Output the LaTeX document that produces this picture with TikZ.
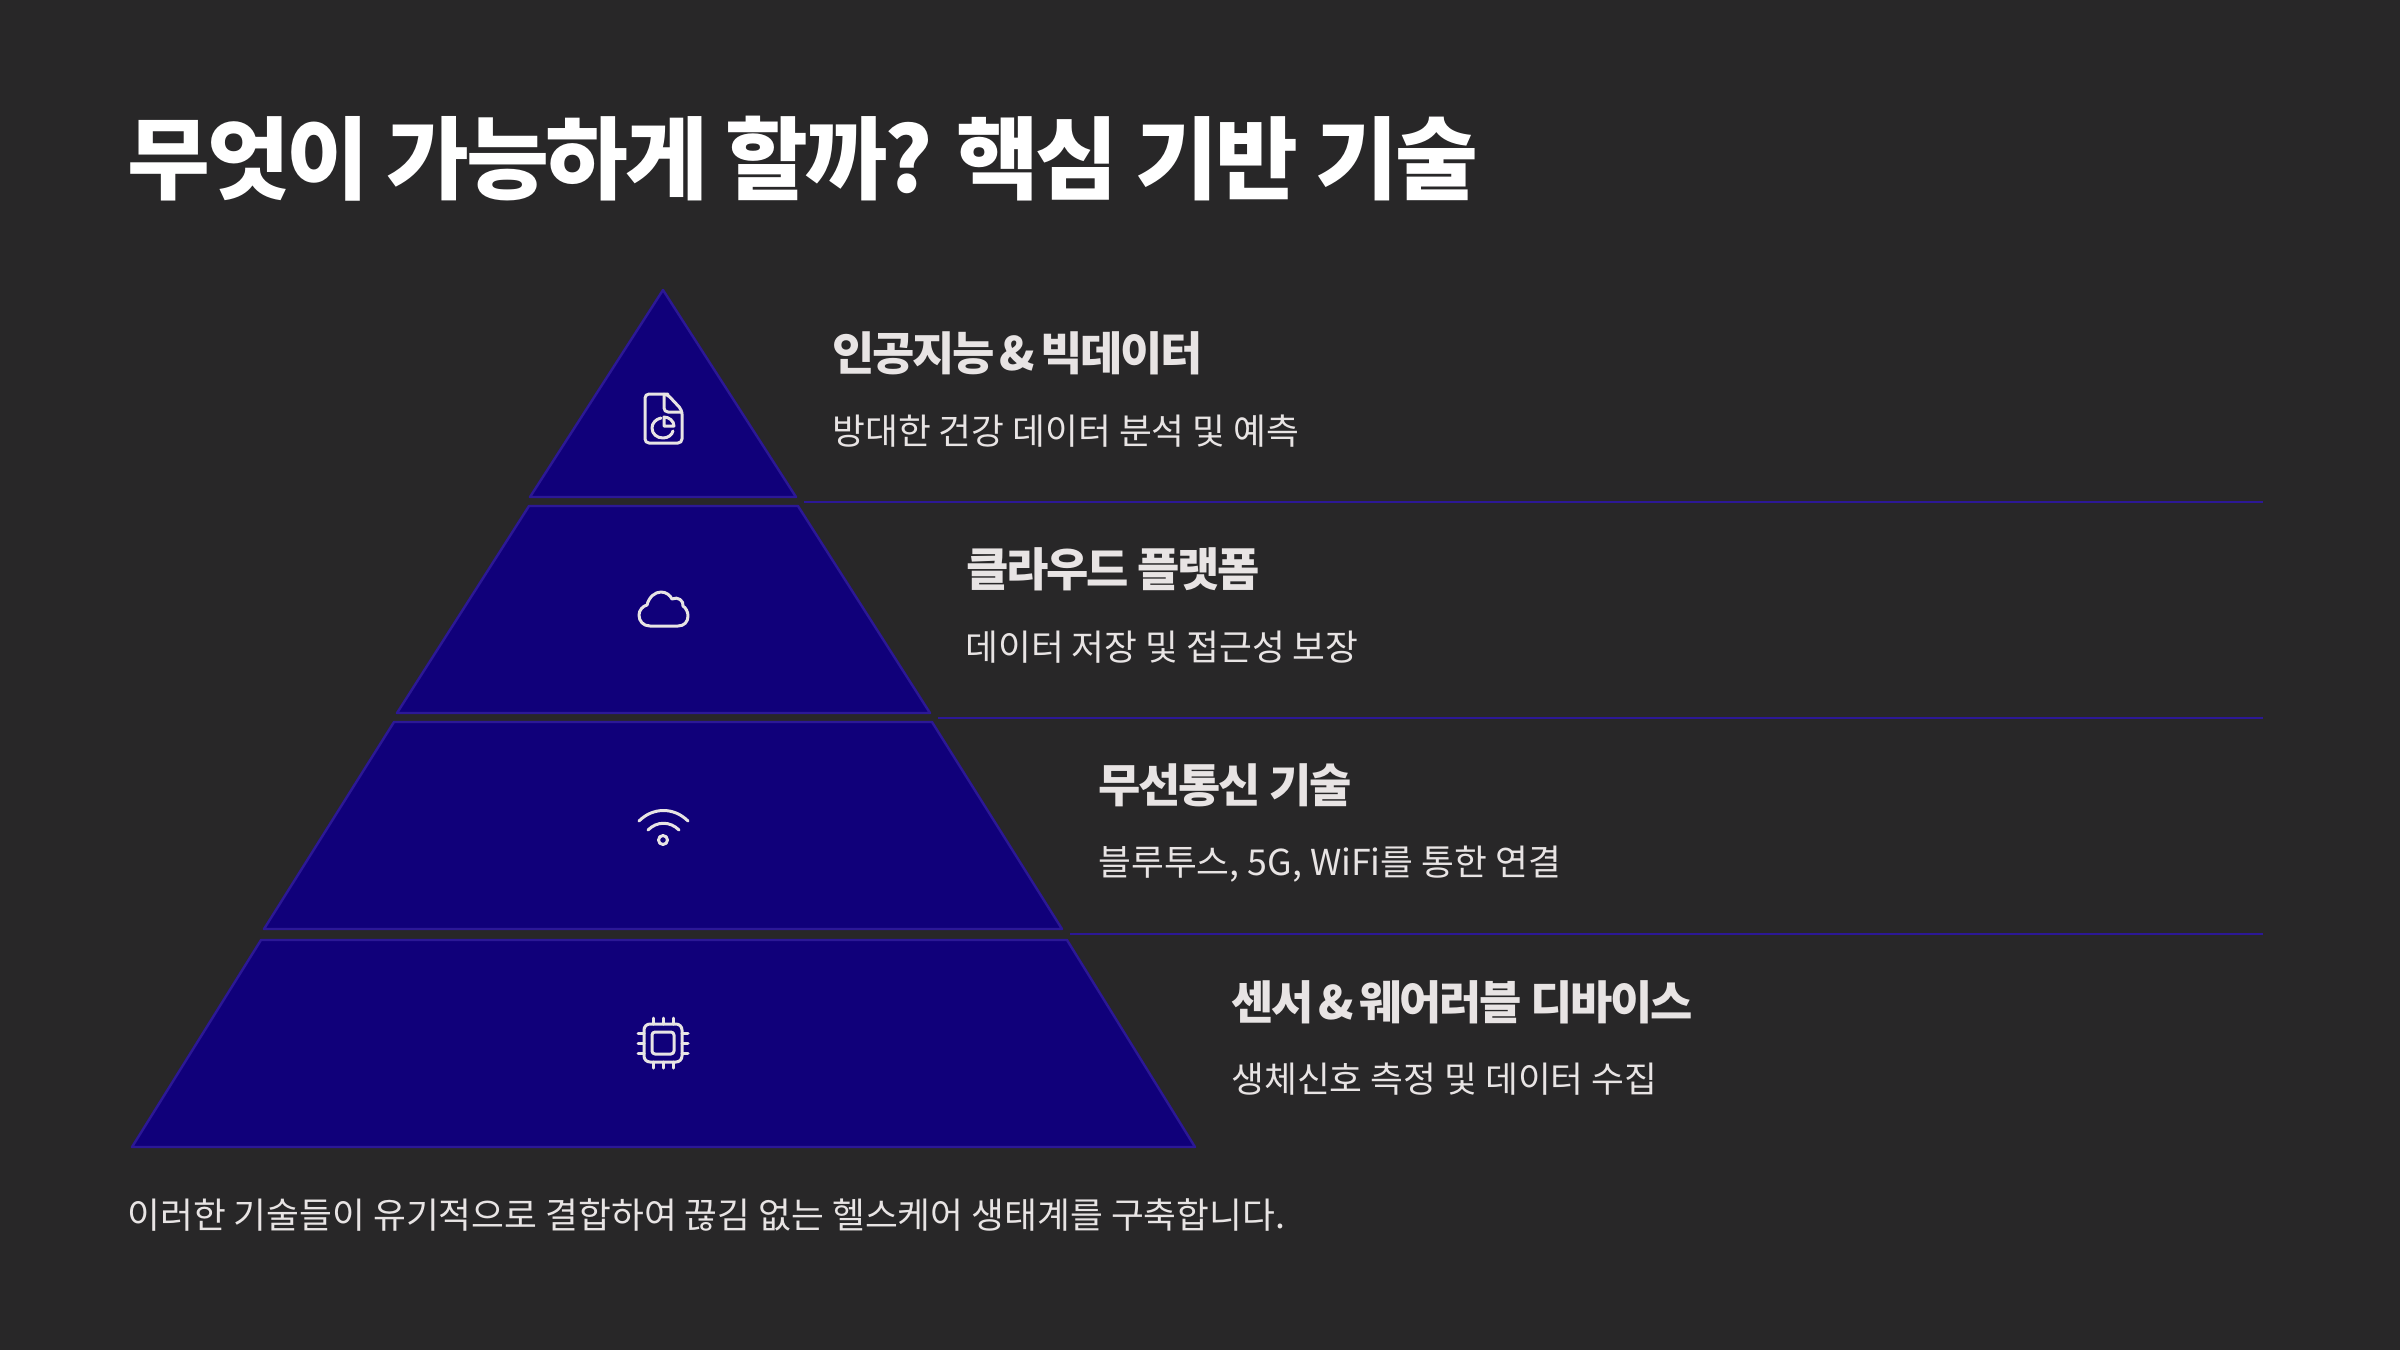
\documentclass[tikz,border=0pt]{standalone}
\usepackage{fontspec}
\usepackage{tikz}
\usetikzlibrary{calc}
\setmainfont{Noto Sans CJK KR}
\newfontfamily\titlefont[LetterSpace=-3.6]{Noto Sans CJK KR}
\newfontfamily\headfont[LetterSpace=-5]{Noto Sans CJK KR}
\definecolor{slidebg}{HTML}{282728}
\definecolor{layerfill}{HTML}{10007A}
\definecolor{layerline}{HTML}{2C1896}
\definecolor{softwhite}{HTML}{E8E4E4}
\pgfdeclarelayer{background}
\pgfdeclarelayer{edgelayer}
\pgfdeclarelayer{nodelayer}
\pgfsetlayers{background,edgelayer,nodelayer,main}
\newcommand{\tightamp}{\kern-1.5pt\&\kern-1.5pt}
\tikzstyle{none}=[inner sep=0mm]
\tikzstyle{layer}=[fill=layerfill,draw=layerline,line width=1.2pt,line join=round]
\tikzstyle{rule}=[draw=layerline,line width=1.2pt]
\tikzstyle{icon}=[draw=softwhite,line width=1.5pt,line cap=round,line join=round]
\tikzstyle{titletext}=[none,anchor=west,text=white,font=\fontsize{45}{54}\titlefont\bfseries]
\tikzstyle{headtext}=[none,anchor=west,text=softwhite,font=\fontsize{23}{28}\headfont\bfseries]
\tikzstyle{desctext}=[none,anchor=west,text=softwhite,font=\fontsize{17.85}{21}\selectfont]
\begin{document}
\begin{tikzpicture}[x=0.5pt,y=-0.5pt]
	\begin{pgfonlayer}{background}
		\fill [slidebg] (0, 0) rectangle (2400, 1350);
	\end{pgfonlayer}
	\useasboundingbox (0, 0) rectangle (2400, 1350);
	\begin{pgfonlayer}{edgelayer}
		% pyramid, top to bottom
		\draw [style=layer] (663, 290) -- (796, 497) -- (530, 497) -- cycle;
		\draw [style=layer] (529, 506) -- (798, 506) -- (930, 713) -- (397, 713) -- cycle;
		\draw [style=layer] (394, 722) -- (932, 722) -- (1062, 929) -- (264, 929) -- cycle;
		\draw [style=layer] (261, 940) -- (1067, 940) -- (1195, 1147) -- (132, 1147) -- cycle;
		\coordinate (r1a) at (804, 502);
		\coordinate (r1b) at (2263, 502);
		\coordinate (r2a) at (938, 718);
		\coordinate (r2b) at (2263, 718);
		\coordinate (r3a) at (1070, 934);
		\coordinate (r3b) at (2263, 934);
		\draw [style=rule] (r1a) to (r1b);
		\draw [style=rule] (r2a) to (r2b);
		\draw [style=rule] (r3a) to (r3b);
	\end{pgfonlayer}
	\begin{pgfonlayer}{nodelayer}
		\node [style=titletext] (title) at (127, 159) {무엇이 가능하게 할까? 핵심 기반 기술};
		\node [style=headtext] (h1) at (832, 353) {인공지능 \tightamp{} 빅데이터};
		\node [style=desctext] (d1) at (832, 431.5) {방대한 건강 데이터 분석 및 예측};
		\node [style=headtext] (h2) at (966, 569) {클라우드 플랫폼};
		\node [style=desctext] (d2) at (965, 647.5) {데이터 저장 및 접근성 보장};
		\node [style=headtext] (h3) at (1098, 785) {무선통신 기술};
		\node [style=desctext] (d3) at (1098, 864) {블루투스, 5G, WiFi를 통한 연결};
		\node [style=headtext] (h4) at (1231, 1002) {센서 \tightamp{} 웨어러블 디바이스};
		\node [style=desctext] (d4) at (1231, 1079.5) {생체신호 측정 및 데이터 수집};
		\node [style=desctext] (foot) at (127, 1214.5) {이러한 기술들이 유기적으로 결합하여 끊김 없는 헬스케어 생태계를 구축합니다.};
		% document icon
		\draw [style=icon, rounded corners=2pt] (664, 394) -- (645, 394) -- (645, 443) -- (682, 443) -- (682, 410) -- (667, 394) -- cycle;
		\draw [style=icon, rounded corners=2pt] (664, 394) -- (664, 412) -- (682, 412);
		\draw [style=icon] (661, 418) .. controls (656, 419) and (652, 423) .. (652, 428) .. controls (652, 434) and (657, 438) .. (663, 438) .. controls (668, 438) and (672, 435) .. (673, 431);
		\draw [style=icon] (664, 417) -- (664, 426) -- (674, 426) .. controls (674, 421) and (669, 417) .. (664, 417) -- cycle;
		% cloud icon
		\draw [style=icon] (650, 626) .. controls (643, 626) and (639, 621) .. (639, 615) .. controls (639, 610) and (643, 606) .. (647, 605) .. controls (649, 597) and (655, 592) .. (661, 592) .. controls (666, 592) and (670, 595) .. (672, 599) .. controls (678, 596) and (684, 601) .. (683, 606) .. controls (686, 608) and (688, 612) .. (688, 616) .. controls (688, 622) and (684, 626) .. (678, 626) -- cycle;
		% wifi icon
		\draw [style=icon] (639, 821) .. controls (653, 807) and (674, 807) .. (688, 821);
		\draw [style=icon] (648, 830) .. controls (657, 821) and (670, 821) .. (679, 830);
		\draw [style=icon] (663, 840) circle (4.5);
		% chip icon
		\draw [style=icon, rounded corners=3pt] (644, 1024) rectangle (682, 1062);
		\draw [style=icon, rounded corners=1.5pt] (652, 1032) rectangle (674, 1054);
		\foreach \p in {653, 663, 673} {
			\draw [style=icon] (\p, 1018) -- (\p, 1024);
			\draw [style=icon] (\p, 1062) -- (\p, 1068);
		}
		\foreach \p in {1033, 1043, 1053} {
			\draw [style=icon] (638, \p) -- (644, \p);
			\draw [style=icon] (682, \p) -- (688, \p);
		}
	\end{pgfonlayer}
\end{tikzpicture}
\end{document}
